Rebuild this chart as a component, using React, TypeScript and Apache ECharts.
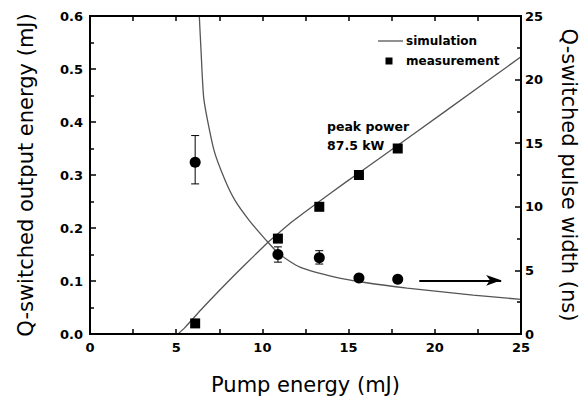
import React, { useEffect, useRef } from "react";
import * as echarts from "echarts";

// Measured points (pump energy in mJ)
const pumpEnergy = [6.1, 10.9, 13.3, 15.6, 17.85];
const outputEnergy = [0.02, 0.18, 0.24, 0.3, 0.35];
const pulseWidth = [13.5, 6.25, 6.0, 4.4, 4.3];
// Error bars on pulse width (ns)
const pulseErrX = [6.1, 10.9, 13.3];
const pulseErrLow = [11.8, 5.65, 5.5];
const pulseErrHigh = [15.6, 6.85, 6.55];

// Simulated output energy (mJ)
const simEnergyX = [5.11, 5.5, 6.0, 6.56, 7.5, 8.5, 9.5, 10.22, 11.0, 11.77, 13.0, 14.86, 16.78, 20.64, 25];
const simEnergyY = [0, 0.012, 0.03, 0.05, 0.082, 0.115, 0.147, 0.17, 0.192, 0.213, 0.243, 0.287, 0.331, 0.421, 0.523];

// Simulated pulse width (ns)
const simWidthX = [6.34, 6.44, 6.61, 7.19, 7.83, 8.41, 9.22, 10.21, 10.96, 12.18, 14.21, 15.95, 18.39, 22.22, 25];
const simWidthY = [25, 22.3, 18.4, 14.45, 12.1, 10.5, 8.96, 7.38, 6.3, 5.26, 4.48, 4.05, 3.61, 3.06, 2.72];

// Arrow pointing to the right-hand axis
const arrowFrom = [19.1, 4.22];
const arrowTo = [23.85, 4.22];

const leftTicks = ["0.0", "0.1", "0.2", "0.3", "0.4", "0.5", "0.6"];

const FONT = "DejaVu Sans";
const CURVE = "#555555";

// Plot area
const GRID = { left: 90, right: 67, top: 16, bottom: 68 };
const W = 588;
const H = 402;

export default function App() {
  const ref = useRef<HTMLDivElement>(null);

  useEffect(() => {
    if (!ref.current) return;
    const chart = echarts.init(ref.current, undefined, { renderer: "svg" });

    const axisLine = () => ({ show: true, onZero: false, lineStyle: { color: "black", width: 2 } });
    const tickStyle = () => ({ color: "black", width: 1.5 });
    const tickLabel = { color: "#000", fontFamily: FONT, fontWeight: "bold" as const, fontSize: 13 };

    chart.setOption({
      animation: false,
      textStyle: { fontFamily: FONT },
      grid: { ...GRID, show: true, borderColor: "black", borderWidth: 2 },
      xAxis: [
        {
          type: "value",
          min: 0,
          max: 25,
          interval: 5,
          position: "bottom",
          z: 10,
          name: "Pump energy (mJ)",
          nameLocation: "middle",
          nameGap: 40,
          nameTextStyle: { fontFamily: FONT, fontSize: 21, color: "#000" },
          axisLine: axisLine(),
          axisTick: { show: true, inside: true, length: 5, lineStyle: tickStyle() },
          minorTick: { show: true, splitNumber: 2, length: 5, lineStyle: tickStyle() },
          axisLabel: { ...tickLabel, margin: 7 },
          splitLine: { show: false },
        },
        {
          type: "value",
          min: 0,
          max: 25,
          interval: 5,
          position: "top",
          z: 10,
          axisLine: axisLine(),
          axisTick: { show: true, inside: true, length: 5, lineStyle: tickStyle() },
          minorTick: { show: true, splitNumber: 2, length: 5, lineStyle: tickStyle() },
          axisLabel: { show: false },
          splitLine: { show: false },
        },
      ],
      yAxis: [
        {
          type: "value",
          min: 0,
          max: 0.6,
          interval: 0.1,
          position: "left",
          z: 10,
          name: "Q-switched output energy (mJ)",
          nameLocation: "middle",
          nameGap: 54,
          nameTextStyle: { fontFamily: FONT, fontSize: 21, color: "#000" },
          axisLine: axisLine(),
          axisTick: { show: true, inside: true, length: 6, lineStyle: tickStyle() },
          minorTick: { show: true, splitNumber: 2, length: 4, lineStyle: tickStyle() },
          axisLabel: {
            ...tickLabel,
            margin: 7,
            formatter: (v: number) => leftTicks[Math.round(v * 10)] ?? v.toFixed(1),
          },
          splitLine: { show: false },
        },
        {
          type: "value",
          min: 0,
          max: 25,
          interval: 5,
          position: "right",
          z: 10,
          name: "Q-switched pulse width (ns)",
          nameLocation: "middle",
          nameRotate: -90,
          nameGap: 37,
          nameTextStyle: { fontFamily: FONT, fontSize: 21, color: "#000" },
          axisLine: axisLine(),
          axisTick: { show: true, inside: true, length: 6, lineStyle: tickStyle() },
          minorTick: { show: true, splitNumber: 2, length: 4, lineStyle: tickStyle() },
          axisLabel: { ...tickLabel, margin: 4 },
          splitLine: { show: false },
        },
      ],
      series: [
        {
          name: "simulation",
          type: "line",
          xAxisIndex: 0,
          yAxisIndex: 0,
          data: simEnergyX.map((x, i) => [x, simEnergyY[i]]),
          showSymbol: false,
          smooth: 0.2,
          lineStyle: { color: CURVE, width: 1.3 },
          z: 2,
        },
        {
          name: "simulation",
          type: "line",
          xAxisIndex: 0,
          yAxisIndex: 1,
          data: simWidthX.map((x, i) => [x, simWidthY[i]]),
          showSymbol: false,
          smooth: 0.2,
          lineStyle: { color: CURVE, width: 1.3 },
          z: 2,
        },
        {
          name: "error",
          type: "custom",
          xAxisIndex: 0,
          yAxisIndex: 1,
          data: pulseErrX.map((x, i) => [x, pulseErrLow[i], pulseErrHigh[i]]),
          renderItem: (params: any, api: any) => {
            const lo = api.coord([api.value(0), api.value(1)]);
            const hi = api.coord([api.value(0), api.value(2)]);
            const w = 4;
            const style = { stroke: "#000", lineWidth: 1 };
            return {
              type: "group",
              children: [
                { type: "line", shape: { x1: lo[0], y1: lo[1], x2: hi[0], y2: hi[1] }, style },
                { type: "line", shape: { x1: lo[0] - w, y1: lo[1], x2: lo[0] + w, y2: lo[1] }, style },
                { type: "line", shape: { x1: hi[0] - w, y1: hi[1], x2: hi[0] + w, y2: hi[1] }, style },
              ],
            };
          },
          z: 3,
        },
        {
          name: "measurement",
          type: "scatter",
          xAxisIndex: 0,
          yAxisIndex: 0,
          data: pumpEnergy.map((x, i) => [x, outputEnergy[i]]),
          symbol: "rect",
          symbolSize: 10,
          itemStyle: { color: "#000", opacity: 1 },
          z: 4,
        },
        {
          name: "pulse width",
          type: "scatter",
          xAxisIndex: 0,
          yAxisIndex: 1,
          data: pumpEnergy.map((x, i) => [x, pulseWidth[i]]),
          symbol: "circle",
          symbolSize: 11,
          itemStyle: { color: "#000", opacity: 1 },
          z: 4,
          markLine: {
            silent: true,
            symbol: ["none", "arrow"],
            symbolSize: [8, 15],
            label: { show: false },
            lineStyle: { color: "#000", width: 2, type: "solid" },
            data: [[{ coord: arrowFrom }, { coord: arrowTo }]],
          },
        },
      ],
      graphic: [
        // plot frame
        {
          type: "rect",
          z: 100,
          silent: true,
          shape: {
            x: GRID.left,
            y: GRID.top,
            width: W - GRID.left - GRID.right,
            height: H - GRID.top - GRID.bottom,
          },
          style: { fill: "none", stroke: "black", lineWidth: 2 },
        },
        {
          type: "line",
          shape: { x1: 378, y1: 41, x2: 403, y2: 41 },
          style: { stroke: CURVE, lineWidth: 1.3 },
        },
        {
          type: "text",
          x: 406,
          y: 41,
          style: { text: "simulation", fontFamily: FONT, fontSize: 12, fontWeight: "bold", fill: "#000", verticalAlign: "middle" },
        },
        {
          type: "rect",
          shape: { x: 385.5, y: 57.5, width: 7, height: 7 },
          style: { fill: "#000" },
        },
        {
          type: "text",
          x: 406,
          y: 61,
          style: { text: "measurement", fontFamily: FONT, fontSize: 12, fontWeight: "bold", fill: "#000", verticalAlign: "middle" },
        },
        {
          type: "text",
          x: 327,
          y: 126,
          style: { text: "peak power", fontFamily: FONT, fontSize: 12.5, fontWeight: "bold", fill: "#000", verticalAlign: "middle" },
        },
        {
          type: "text",
          x: 327,
          y: 145,
          style: { text: "87.5 kW", fontFamily: FONT, fontSize: 12.5, fontWeight: "bold", fill: "#000", verticalAlign: "middle" },
        },
      ],
    });

    return () => chart.dispose();
  }, []);

  return (
    <div
      ref={ref}
      style={{ position: "fixed", left: 0, top: 0, width: W, height: H, background: "#fff" }}
    />
  );
}
